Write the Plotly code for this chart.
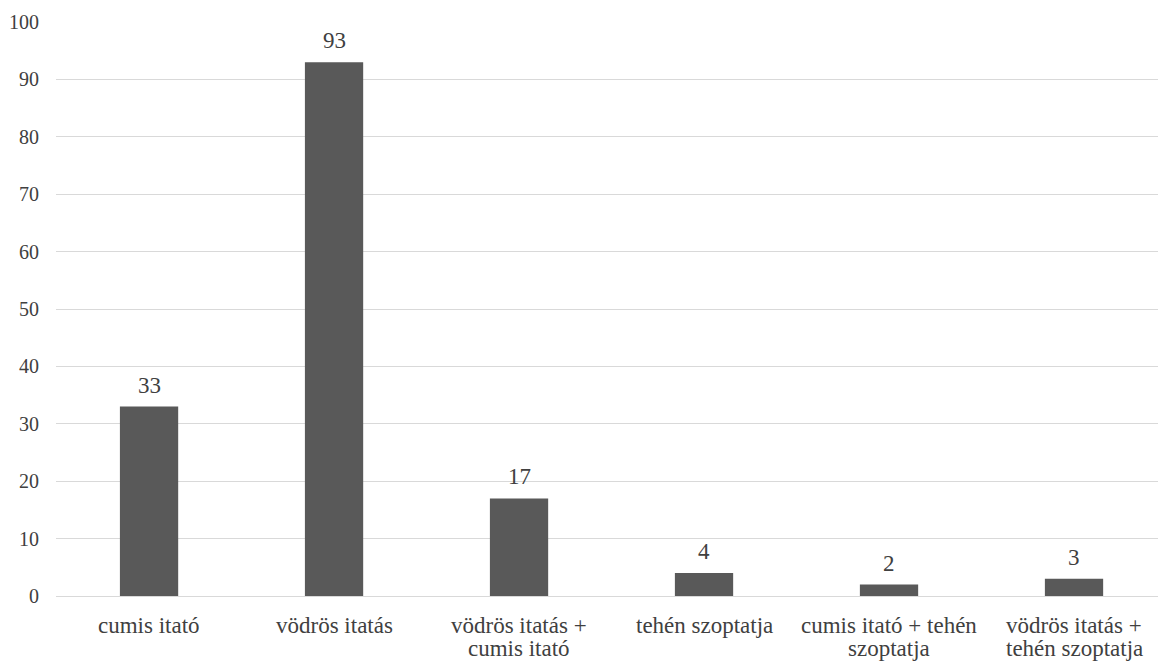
import plotly.graph_objects as go

categories = [
    "cumis itató",
    "vödrös itatás",
    "vödrös itatás +<br>cumis itató",
    "tehén szoptatja",
    "cumis itató + tehén<br>szoptatja",
    "vödrös itatás +<br>tehén szoptatja",
]
values = [33, 93, 17, 4, 2, 3]
y_ticks = list(range(0, 101, 10))

font_family = "Liberation Serif"
text_color = "#404040"
positions = list(range(len(categories)))

fig = go.Figure(
    go.Bar(
        x=positions,
        y=values,
        width=0.315,
        marker=dict(color="#595959", line=dict(width=0)),
        hoverinfo="x+y",
    )
)

# value labels above each bar
for pos, val in zip(positions, values):
    fig.add_annotation(
        x=pos, y=val, xref="x", yref="y",
        text=str(val), showarrow=False,
        xanchor="center", yanchor="bottom", yshift=7,
        font=dict(family=font_family, size=23, color=text_color),
    )

# category labels, one annotation per line for tight line spacing
for pos, label in zip(positions, categories):
    for i, line in enumerate(label.split("<br>")):
        fig.add_annotation(
            x=pos, y=0, xref="x", yref="paper",
            text=line, showarrow=False,
            xanchor="center", yanchor="top", yshift=-15 - 23 * i,
            font=dict(family=font_family, size=23, color=text_color),
        )

fig.update_layout(
    width=1158,
    height=663,
    margin=dict(l=56, r=0, t=22, b=67),
    plot_bgcolor="white",
    paper_bgcolor="white",
    showlegend=False,
    font=dict(family=font_family, color=text_color),
)
fig.update_xaxes(
    range=[-0.503, 5.454],
    showticklabels=False,
    showgrid=False,
    showline=False,
    zeroline=False,
    ticks="",
)
fig.update_yaxes(
    range=[0, 100],
    tickvals=y_ticks,
    tickfont=dict(family=font_family, size=20, color=text_color),
    showgrid=True,
    gridcolor="#d9d9d9",
    gridwidth=1,
    zeroline=True,
    zerolinecolor="#d9d9d9",
    zerolinewidth=1,
    ticks="",
    ticklabelstandoff=16,
)

fig.write_html("out.html")
